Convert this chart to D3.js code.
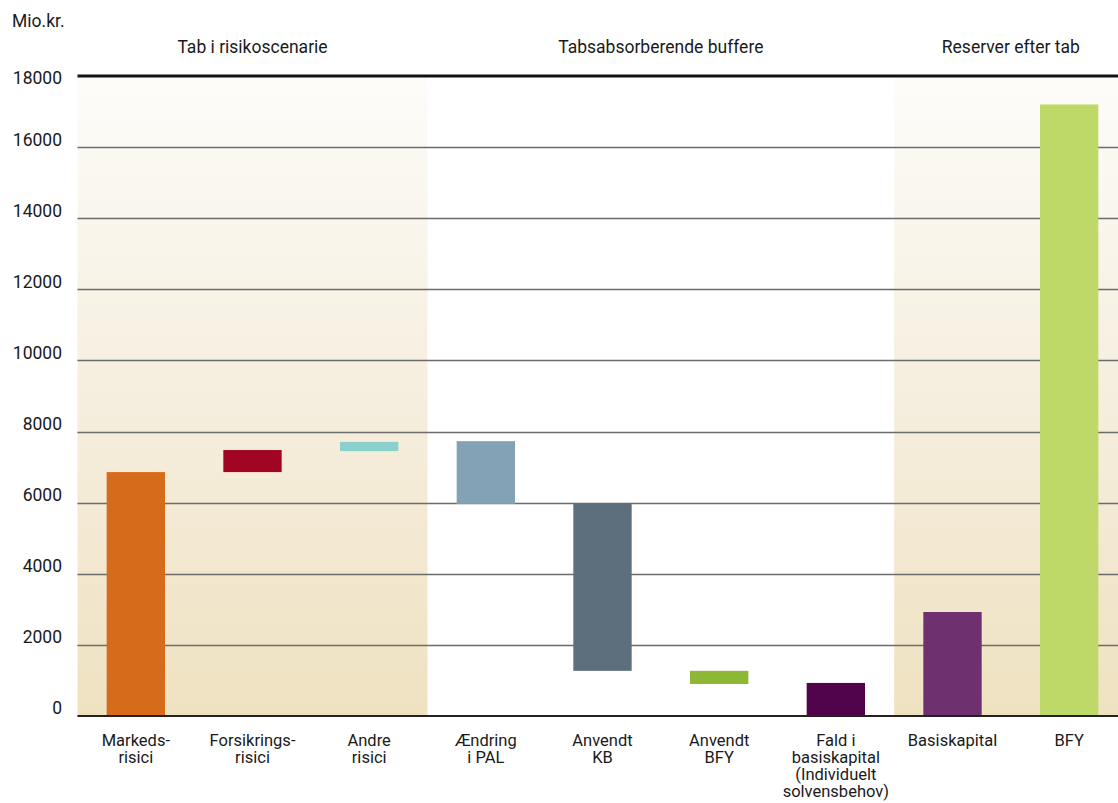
<!DOCTYPE html>
<html>
<head>
<meta charset="utf-8">
<script src="https://cdn.jsdelivr.net/npm/d3@7"></script>
<style>
  html, body { margin: 0; padding: 0; background: #ffffff; }
  svg { display: block; font-family: Roboto, "Noto Sans", sans-serif; }
</style>
</head>
<body>
<svg id="chart" width="1118" height="803"></svg>
<script>
// Waterfall: losses in the risk scenario, loss-absorbing buffers and reserves after loss (Mio.kr.)
const categories = ["Markeds-risici", "Forsikrings-risici", "Andre risici", "Ændring i PAL",
  "Anvendt KB", "Anvendt BFY", "Fald i basiskapital", "Basiskapital", "BFY"];
const categoryLines = [
  ["Markeds-", "risici"],
  ["Forsikrings-", "risici"],
  ["Andre", "risici"],
  ["Ændring", "i PAL"],
  ["Anvendt", "KB"],
  ["Anvendt", "BFY"],
  ["Fald i", "basiskapital", "(Individuelt", "solvensbehov)"],
  ["Basiskapital"],
  ["BFY"]
];
const barFrom = [0, 6860, 7450, 5965, 1270, 900, 0, 0, 0];
const barTo   = [6860, 7480, 7710, 7730, 5965, 1270, 930, 2925, 17200];
const barColors = ["#d76b1c", "#a00621", "#8ad1cd", "#83a2b6", "#5d6f7d", "#8db836", "#51034b", "#6e306e", "#bfd968"];

const yTicks = [0, 2000, 4000, 6000, 8000, 10000, 12000, 14000, 16000, 18000];
const unitLabel = "Mio.kr.";

// Section headers spanning groups of categories
const sections = [
  { label: "Tab i risikoscenarie", first: 0, last: 2, shaded: true },
  { label: "Tabsabsorberende buffere", first: 3, last: 6, shaded: false },
  { label: "Reserver efter tab", first: 7, last: 8, shaded: true }
];

const svg = d3.select("#chart");
const plotLeft = 77.5, plotRight = 1127.5, plotTop = 76, plotBottom = 716;
const fontSize = 17.5;
const labelSize = 16.5;
const lineGap = 17;
const textColor = "#1a1a1a";

const x = d3.scaleBand().domain(categories).range([plotLeft, plotRight]).paddingInner(0.5).paddingOuter(0.25);
const y = d3.scaleLinear().domain([0, 18000]).range([plotBottom, plotTop]);

// Shading gradient for the risk and reserve sections
const defs = svg.append("defs");
const grad = defs.append("linearGradient")
  .attr("id", "bandFill").attr("gradientUnits", "userSpaceOnUse")
  .attr("x1", 0).attr("x2", 0).attr("y1", y(18000)).attr("y2", y(0));
grad.append("stop").attr("offset", 0).attr("stop-color", "#fdfcf9");
grad.append("stop").attr("offset", 0.55).attr("stop-color", "#f5eddc");
grad.append("stop").attr("offset", 1).attr("stop-color", "#efe2c1");

const step = x.step();
const bandStart = i => plotLeft + i * step;

svg.append("g").selectAll("rect")
  .data(sections.filter(s => s.shaded))
  .join("rect")
  .attr("x", s => bandStart(s.first))
  .attr("width", s => Math.min(1118, bandStart(s.last + 1)) - bandStart(s.first))
  .attr("y", y(18000))
  .attr("height", y(0) - y(18000))
  .attr("fill", "url(#bandFill)");

// Gridlines
svg.append("g").selectAll("line")
  .data(yTicks.filter(t => t !== 0 && t !== 18000))
  .join("line")
  .attr("x1", plotLeft).attr("x2", 1118)
  .attr("y1", d => Math.round(y(d)) + 0.5).attr("y2", d => Math.round(y(d)) + 0.5)
  .attr("stroke", "#6b6b6b").attr("stroke-width", 1.6);

// Bars
svg.append("g").selectAll("rect")
  .data(categories)
  .join("rect")
  .attr("x", d => x(d))
  .attr("width", x.bandwidth())
  .attr("y", (d, i) => y(Math.max(barFrom[i], barTo[i])))
  .attr("height", (d, i) => Math.abs(y(barFrom[i]) - y(barTo[i])))
  .attr("fill", (d, i) => barColors[i]);

// Baseline and top rule
svg.append("line")
  .attr("x1", plotLeft).attr("x2", 1118).attr("y1", y(0)).attr("y2", y(0))
  .attr("stroke", "#222").attr("stroke-width", 2);
svg.append("line")
  .attr("x1", plotLeft).attr("x2", 1118).attr("y1", y(18000)).attr("y2", y(18000))
  .attr("stroke", "#111").attr("stroke-width", 3);

// Y axis labels
const yAxis = d3.axisLeft(y).tickValues(yTicks).tickFormat(d3.format("d")).tickSize(0).tickPadding(0);
const yG = svg.append("g").attr("transform", `translate(62,0)`).call(yAxis);
yG.select(".domain").remove();
yG.selectAll("text")
  .attr("font-size", fontSize).attr("fill", textColor)
  .attr("font-family", "Roboto, sans-serif")
  .attr("dy", d => d === 18000 ? "0.42em" : "-0.12em");

// X axis labels (multi-line, one text per line)
const xAxis = d3.axisBottom(x).tickSize(0).tickFormat("");
const xG = svg.append("g").attr("transform", `translate(0,${y(0)})`).call(xAxis);
xG.select(".domain").remove();
xG.selectAll(".tick").each(function(d, i) {
  d3.select(this).selectAll("text.line")
    .data(categoryLines[i])
    .join("text")
    .attr("class", "line")
    .attr("text-anchor", "middle").attr("font-size", labelSize).attr("fill", textColor)
    .attr("font-family", "Roboto, sans-serif")
    .attr("x", 0)
    .attr("y", (line, k) => 30 + k * lineGap)
    .text(line => line);
});

// Section headers
svg.append("g").selectAll("text")
  .data(sections)
  .join("text")
  .attr("x", s => (bandStart(s.first) + bandStart(s.last + 1)) / 2)
  .attr("y", 53)
  .attr("text-anchor", "middle")
  .attr("font-size", fontSize)
  .attr("fill", textColor)
  .text(s => s.label);

// Unit label
svg.append("text")
  .attr("x", 12).attr("y", 27)
  .attr("font-size", fontSize).attr("fill", textColor)
  .text(unitLabel);
</script>
</body>
</html>
